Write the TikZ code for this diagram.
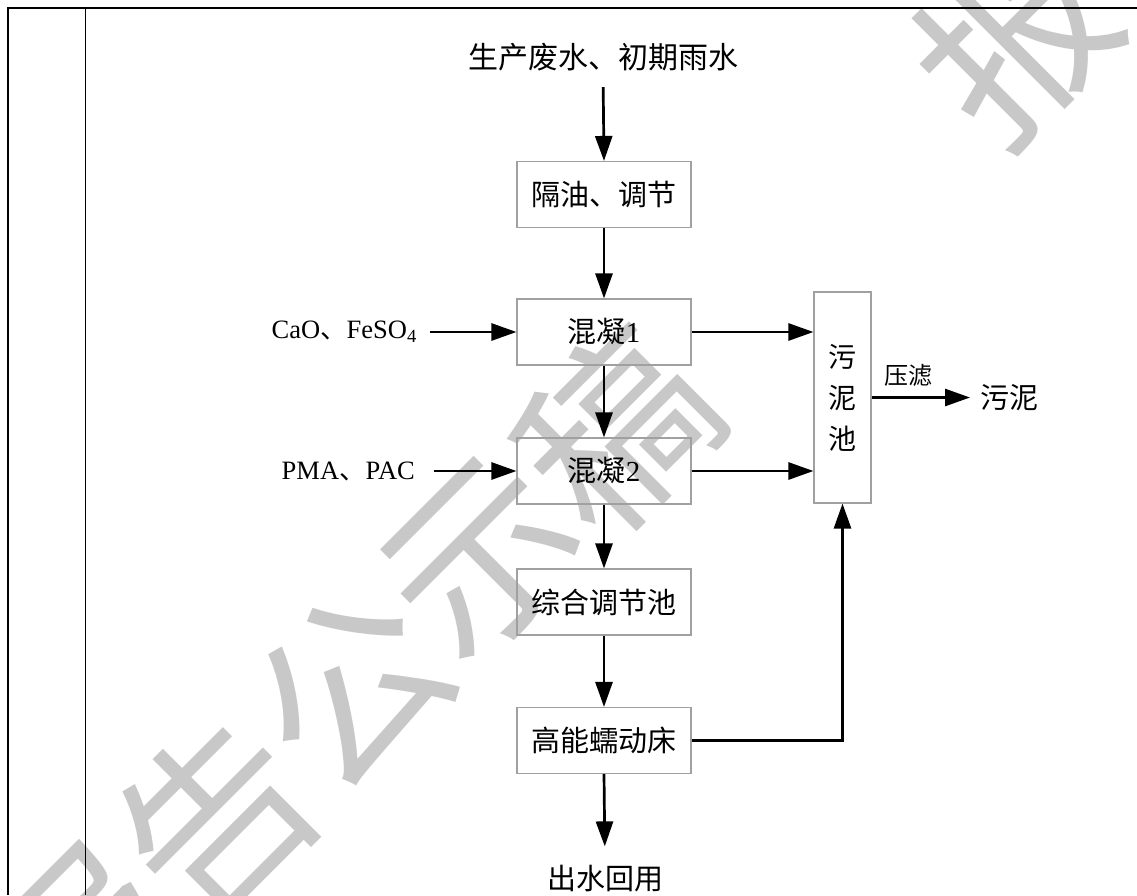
\documentclass[tikz,border=0pt]{standalone}
\usepackage{fontspec}
\setmainfont{Liberation Serif}
\newfontfamily\cjk{Noto Sans CJK SC}
\usetikzlibrary{arrows.meta}
\definecolor{wmgray}{HTML}{C8C8C8}
\definecolor{boxgray}{HTML}{A0A0A0}
\begin{document}
\begin{tikzpicture}[x=1pt,y=-1pt,
  box/.style={draw=boxgray,line width=1.1pt,minimum width=174pt,minimum height=66pt,inner sep=0pt,font=\fontsize{29}{29}\selectfont\cjk},
  arr/.style={line width=2.7pt,-{Triangle[length=25pt,width=17pt]}},
  lbl/.style={inner sep=0pt,font=\fontsize{29}{29}\selectfont\cjk},
  chem/.style={inner sep=0pt,font=\fontsize{26.5}{26.5}\selectfont},
  wm/.style={text=wmgray,rotate=45,inner sep=0pt,font=\fontsize{188}{188}\selectfont\cjk}]
\useasboundingbox (0,0) rectangle (1137,895);
\fill[white] (0,0) rectangle (1137,895);
% watermark
\begin{scope}
\clip (0,0) rectangle (1137,895);
\node[wm] (w0) at (84,949) {报};
\node[wm] (w1) at (217,819) {告};
\node[wm] (w2) at (350,689) {公};
\node[wm] (w3) at (483,559) {示};
\node[wm] (w4) at (616,429) {稿};
\node[wm] (w5) at (1015,39) {报};
\end{scope}
% frame
\draw[line width=2.6pt] (7,8) -- (1137,8);
\draw[line width=2.5pt] (8,6.7) -- (8,895);
\draw[line width=1.4pt] (85.5,8) -- (85.5,895);
% nodes
\node[lbl,font=\fontsize{30}{30}\selectfont\cjk] (src) at (603,57) {生产废水、初期雨水};
\node[box] (b1) at (604,194.5) {隔油、调节};
\node[box] (c1) at (604,332) {混凝{\rmfamily 1}};
\node[box] (c2) at (604,471) {混凝{\rmfamily 2}};
\node[box] (b3) at (604,602) {综合调节池};
\node[box] (b4) at (604,740.5) {高能蠕动床};
\node[box,minimum width=57pt,minimum height=211pt,align=center,font=\fontsize{28}{41}\selectfont\cjk] (sl) at (842.5,397.5) {污\\泥\\池};
\node[lbl] (out) at (605,879) {出水回用};
\node[chem,anchor=east] (cao) at (417,332) {CaO{\cjk 、}FeSO\textsubscript{4}};
\node[chem,anchor=east] (pma) at (415,471) {PMA{\cjk 、}PAC};
\node[lbl,anchor=west] (sludge) at (980,397.5) {污泥};
\node[lbl,font=\fontsize{24}{24}\selectfont\cjk] (pf) at (908,375) {压滤};
% connectors
\draw[arr,shorten <=16pt] (src.south) -- (b1.north);
\draw[arr] (b1.south) -- (c1.north);
\draw[arr] (c1.south) -- (c2.north);
\draw[arr] (c2.south) -- (b3.north);
\draw[arr] (b3.south) -- (b4.north);
\draw[arr,shorten >=19pt] (b4.south) -- (out.north);
\draw[arr,shorten <=13pt] (cao.east) -- (cao.east -| c1.west);
\draw[arr,shorten <=19pt] (pma.east) -- (pma.east -| c2.west);
\draw[arr] (c1.east) -- (c1.east -| sl.west);
\draw[arr] (c2.east) -- (c2.east -| sl.west);
\draw[arr,shorten >=10pt] (sl.east) -- (sludge.west);
\draw[arr] (b4.east) -| (sl.south);
\end{tikzpicture}
\end{document}
